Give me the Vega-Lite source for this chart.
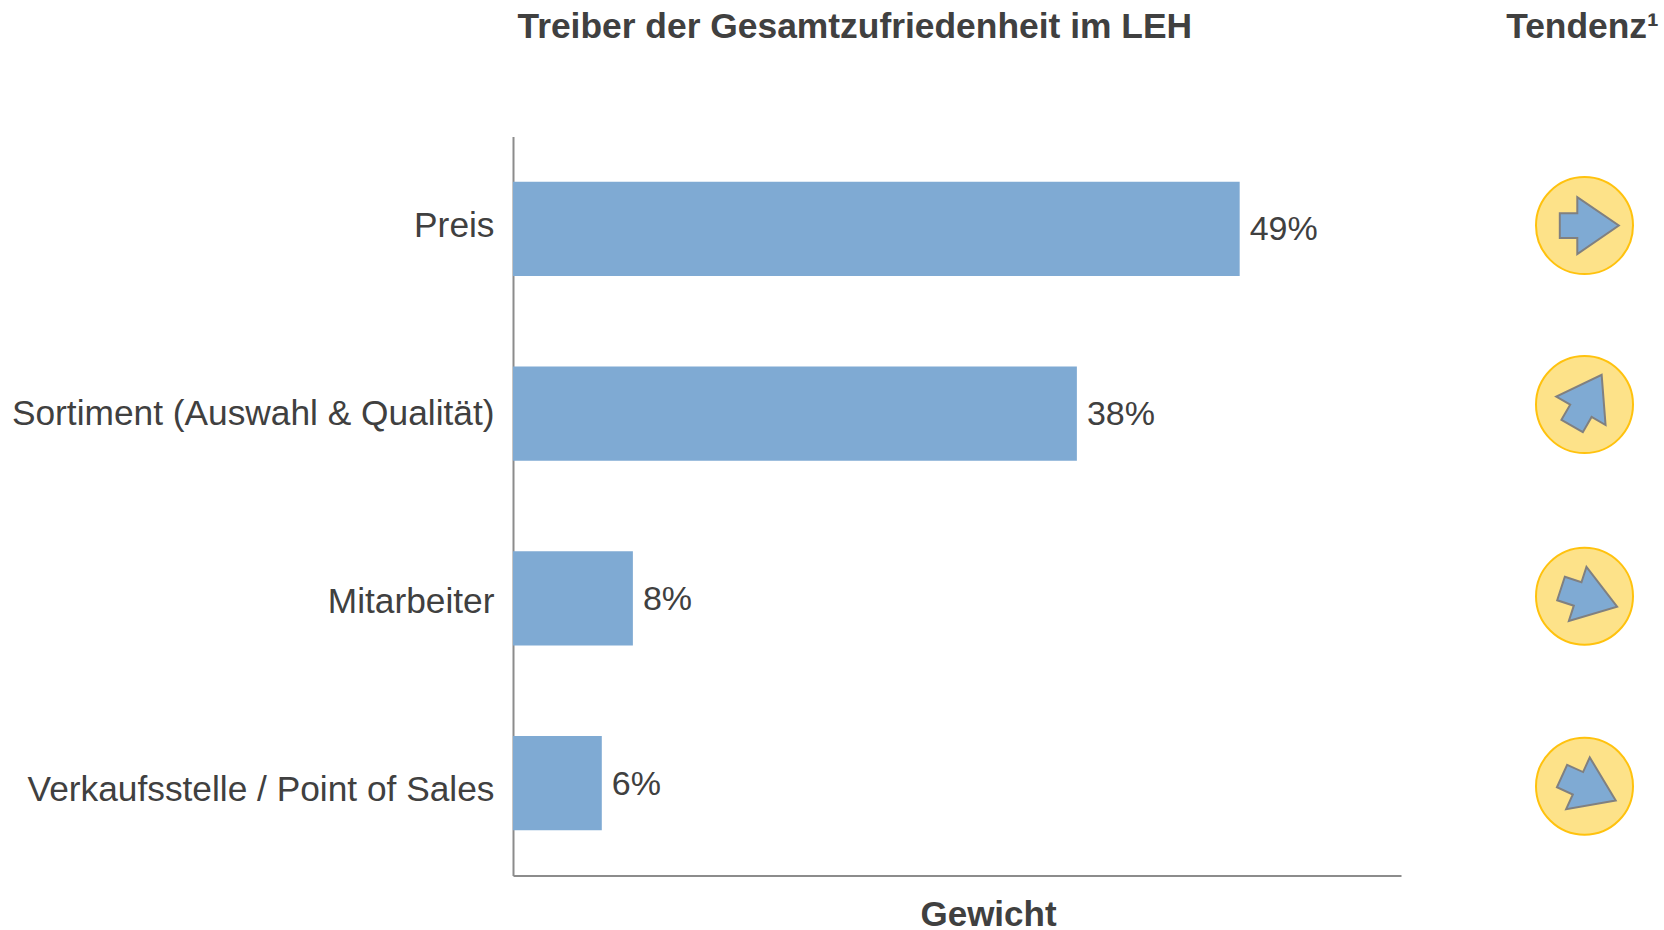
{"$schema":"https://vega.github.io/schema/vega-lite/v6.json","padding":{"left":11,"top":9.5,"right":0,"bottom":0},"background":"white","config":{"view":{"stroke":null},"font":"Liberation Sans","concat":{"spacing":104}},"data":{"values":[{"driver":"Preis","weight":0.491,"trendPos":0.482,"trendAngle":0},{"driver":"Sortiment (Auswahl & Qualität)","weight":0.381,"trendPos":1.451,"trendAngle":-60},{"driver":"Mitarbeiter","weight":0.081,"trendPos":2.488,"trendAngle":18},{"driver":"Verkaufsstelle / Point of Sales","weight":0.06,"trendPos":3.517,"trendAngle":24.5}]},"hconcat":[{"width":888,"height":739,"title":{"text":"Treiber der Gesamtzufriedenheit im LEH","anchor":"start","frame":"group","dx":4.5,"offset":91,"font":"Liberation Sans","fontSize":35.4,"fontWeight":"bold","color":"#404040"},"encoding":{"y":{"field":"driver","type":"nominal","sort":null,"scale":{"paddingInner":0.49,"paddingOuter":0.245},"axis":{"title":null,"ticks":false,"grid":false,"domainColor":"#8c8c8c","domainWidth":2,"labelFont":"Liberation Sans","labelFontSize":35.3,"labelColor":"#404040","labelPadding":19,"labelLimit":600,"labelOffset":{"expr":"datum.value==='Preis'?-3:datum.value==='Mitarbeiter'?4:datum.value==='Verkaufsstelle / Point of Sales'?7:0"}}},"x":{"field":"weight","type":"quantitative","scale":{"domain":[0,0.6],"nice":false},"axis":{"title":"Gewicht","labels":false,"ticks":false,"grid":false,"domainColor":"#8c8c8c","domainWidth":2,"titleFont":"Liberation Sans","titleFontSize":35,"titleFontWeight":"bold","titleColor":"#404040","titleX":475,"titlePadding":22}}},"layer":[{"mark":{"type":"bar","color":"#7FAAD3"}},{"mark":{"type":"text","align":"left","baseline":"middle","dx":10,"dy":1.5,"font":"Liberation Sans","fontSize":34,"color":"#404040"},"encoding":{"text":{"field":"weight","type":"quantitative","format":".0%"}}}]},{"width":159,"height":739,"title":{"text":"Tendenz¹","anchor":"middle","dx":-2,"offset":91,"font":"Liberation Sans","fontSize":35.4,"fontWeight":"bold","color":"#404040"},"encoding":{"y":{"field":"trendPos","type":"quantitative","scale":{"domain":[0,4],"reverse":true,"nice":false},"axis":null}},"layer":[{"mark":{"type":"point","shape":"circle","filled":true,"size":9409,"fill":"#FDE289","stroke":"#FFC20E","strokeWidth":2,"opacity":1}},{"mark":{"type":"point","filled":true,"size":4706,"shape":"M-0.72,-0.36 L-0.21,-0.36 L-0.21,-0.83 L1,0 L-0.21,0.83 L-0.21,0.36 L-0.72,0.36 Z","fill":"#7FAAD3","stroke":"#808080","strokeWidth":2,"opacity":1},"encoding":{"angle":{"field":"trendAngle","type":"quantitative","scale":null}}}]}]}
